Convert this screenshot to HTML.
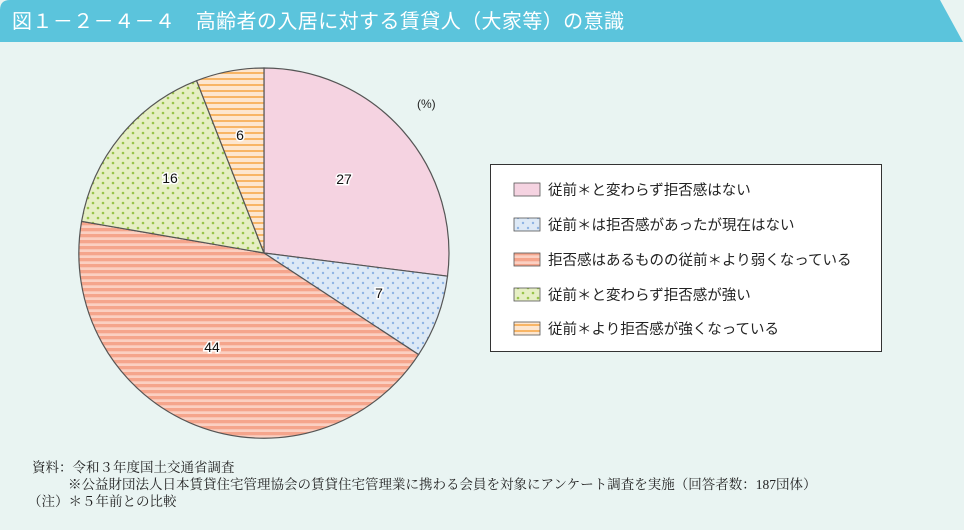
<!DOCTYPE html><html><head><meta charset="utf-8"><style>
body{margin:0;width:964px;height:530px;background:#e9f4f2;position:relative;overflow:hidden;font-family:"Liberation Sans","Noto Sans CJK JP",sans-serif}
.ft{position:absolute;left:32px;font-family:"Liberation Serif","Noto Serif CJK SC",serif;font-size:13.5px;color:#222;line-height:17px;white-space:nowrap}
</style></head><body>
<svg width="964" height="530" style="position:absolute;left:0;top:0">
<defs>
<pattern id="pdot" width="10" height="10" patternUnits="userSpaceOnUse"><rect width="10" height="10" fill="#dde9f6"/><circle cx="3" cy="3" r="1.2" fill="#8fb4e4"/><circle cx="8" cy="8" r="1.2" fill="#8fb4e4"/></pattern>
<pattern id="gdot" width="10" height="10" patternUnits="userSpaceOnUse"><rect width="10" height="10" fill="#e6efc4"/><circle cx="3" cy="3" r="1.3" fill="#99c44a"/><circle cx="8" cy="8" r="1.3" fill="#99c44a"/></pattern>
<pattern id="sal" width="6" height="6" patternUnits="userSpaceOnUse"><rect width="6" height="6" fill="#fbd0c2"/><rect width="6" height="3.3" fill="#f5a58c"/></pattern>
<pattern id="org" width="6" height="6" patternUnits="userSpaceOnUse"><rect width="6" height="6" fill="#fde6cf"/><rect width="6" height="2" fill="#f8b565"/></pattern>
</defs>
<path d="M0 42 V10 Q0 0 10 0 H940 L963 42 Z" fill="#5bc4dc"/>
<text x="12" y="28" font-size="20" fill="#fff" font-family="Liberation Sans,Noto Sans CJK JP,sans-serif" textLength="612">図１－２－４－４　高齢者の入居に対する賃貸人（大家等）の意識</text>
<g stroke="#555" stroke-width="1.2">
<path d="M264 253 L264 68 A185 185 0 0 1 447.5 276.2 Z" fill="#f5d3e1"/>
<path d="M264 253 L447.5 276.2 A185 185 0 0 1 418.6 354.6 Z" fill="url(#pdot)"/>
<path d="M264 253 L418.6 354.6 A185 185 0 0 1 81.6 221.4 Z" fill="url(#sal)"/>
<path d="M264 253 L81.6 221.4 A185 185 0 0 1 196.6 80.7 Z" fill="url(#gdot)"/>
<path d="M264 253 L196.6 80.7 A185 185 0 0 1 264 68 Z" fill="url(#org)"/>
</g>
<g font-size="14" fill="#111" text-anchor="middle" stroke="#fff" stroke-width="3" paint-order="stroke">
<text x="344" y="184">27</text><text x="379" y="298">7</text><text x="212" y="352">44</text><text x="170" y="183">16</text><text x="240" y="140">6</text>
</g>
<text x="417" y="108" font-size="12" fill="#222">(%)</text>
<rect x="490.5" y="164.5" width="391" height="187" fill="#fff" stroke="#333"/>
<g stroke="#555" stroke-width="0.8">
<rect x="514" y="183" width="26" height="13" fill="#f5d3e1"/>
<rect x="514" y="218" width="26" height="13" fill="url(#pdot)"/>
<rect x="514" y="253" width="26" height="13" fill="url(#sal)"/>
<rect x="514" y="288" width="26" height="13" fill="url(#gdot)"/>
<rect x="514" y="322" width="26" height="13" fill="url(#org)"/>
</g>
<g font-size="14.5" fill="#222">
<text x="548" y="195">従前＊と変わらず拒否感はない</text>
<text x="548" y="230">従前＊は拒否感があったが現在はない</text>
<text x="548" y="265">拒否感はあるものの従前＊より弱くなっている</text>
<text x="548" y="300">従前＊と変わらず拒否感が強い</text>
<text x="548" y="334">従前＊より拒否感が強くなっている</text>
</g>
</svg>
<div class="ft" style="top:459px">資料：令和３年度国土交通省調査</div>
<div class="ft" style="top:476px;left:68px">※公益財団法人日本賃貸住宅管理協会の賃貸住宅管理業に携わる会員を対象にアンケート調査を実施（回答者数：187団体）</div>
<div class="ft" style="top:493px;left:28px">（注）＊５年前との比較</div>
</body></html>
